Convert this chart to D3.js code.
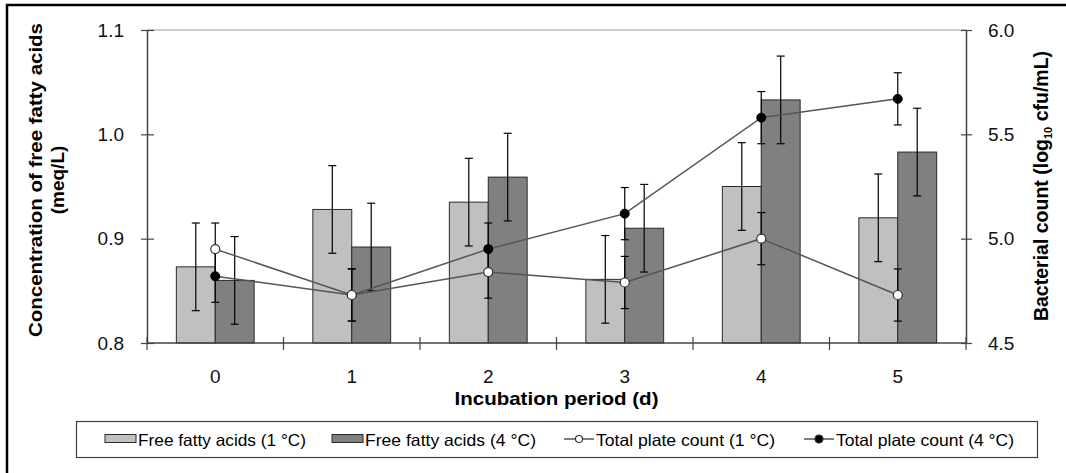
<!DOCTYPE html>
<html><head><meta charset="utf-8">
<script src="https://cdn.jsdelivr.net/npm/d3@7"></script>
<style>body{margin:0;background:#fff}svg{display:block;font-family:"Liberation Sans",Arial,sans-serif}</style>
</head><body>
<svg id="c" width="1066" height="473"></svg>
<script>
const days = ["0","1","2","3","4","5"];
const ffa1C = [0.873, 0.928, 0.935, 0.861, 0.950, 0.920];
const ffa4C = [0.860, 0.892, 0.959, 0.910, 1.033, 0.983];
const ffaErr1C = [0.042, 0.042, 0.042, 0.042, 0.042, 0.042];
const ffaErr4C = [0.042, 0.042, 0.042, 0.042, 0.042, 0.042];
const tpc1C = [4.95, 4.73, 4.84, 4.79, 5.00, 4.73];
const tpc4C = [4.82, 4.73, 4.95, 5.12, 5.58, 5.67];
const tpcErr1C = [0.125, 0.125, 0.125, 0.125, 0.125, 0.125];
const tpcErr4C = [0.125, 0.125, 0.125, 0.125, 0.125, 0.125];
const leftTicks = [0.8, 0.9, 1.0, 1.1];
const rightTicks = [4.5, 5.0, 5.5, 6.0];
const legendLabels = ["Free fatty acids (1 \u00B0C)", "Free fatty acids (4 \u00B0C)", "Total plate count (1 \u00B0C)", "Total plate count (4 \u00B0C)"];

const svg = d3.select("#c");
const L = 147, R = 966, T = 30, B = 343;
const x = d3.scaleBand().domain(days).range([L, R]).paddingInner(0.43).paddingOuter(0.215);
const xs = d3.scaleBand().domain(["a","b"]).range([0, x.bandwidth()]);
const yL = d3.scaleLinear().domain([0.8, 1.1]).range([B, T]);
const yR = d3.scaleLinear().domain([4.5, 6.0]).range([B, T]);
const cx = d => x(d) + x.bandwidth()/2;

// outer frame
svg.append("rect").attr("x",7).attr("y",5).attr("width",1080).attr("height",490)
  .attr("fill","none").attr("stroke","#000").attr("stroke-width",2.5);

// top plot border
svg.append("line").attr("x1",L).attr("x2",R).attr("y1",T).attr("y2",T).attr("stroke","#999").attr("stroke-width",1);

const barColors = ["#c0c0c0","#808080"];
const barSets = [ffa1C, ffa4C];
const barErrs = [ffaErr1C, ffaErr4C];
["a","b"].forEach((k,si) => {
  const g = svg.append("g");
  g.selectAll("rect").data(days).join("rect")
    .attr("x", d => x(d) + xs(k)).attr("width", xs.bandwidth())
    .attr("y", (d,i) => yL(barSets[si][i])).attr("height", (d,i) => B - yL(barSets[si][i]))
    .attr("fill", barColors[si]).attr("stroke","#2a2a2a").attr("stroke-width",1);
});
// bar error bars
["a","b"].forEach((k,si) => {
  days.forEach((d,i) => {
    const xc = x(d) + xs(k) + xs.bandwidth()/2;
    const v = barSets[si][i], e = barErrs[si][i];
    const g = svg.append("g").attr("stroke","#000").attr("stroke-width",1.2);
    g.append("line").attr("x1",xc).attr("x2",xc).attr("y1",yL(v+e)).attr("y2",yL(v-e));
    g.append("line").attr("x1",xc-4).attr("x2",xc+4).attr("y1",yL(v+e)).attr("y2",yL(v+e));
    g.append("line").attr("x1",xc-4).attr("x2",xc+4).attr("y1",yL(v-e)).attr("y2",yL(v-e));
  });
});

// axes
const axL = svg.append("g").attr("transform",`translate(${L},0)`)
  .call(d3.axisLeft(yL).tickValues(leftTicks).tickFormat(d3.format(".1f")).tickSizeInner(6).tickSizeOuter(0).tickPadding(17));
axL.selectAll(".tick line").attr("x2",7).attr("x1",-6);
const axR = svg.append("g").attr("transform",`translate(${R},0)`)
  .call(d3.axisRight(yR).tickValues(rightTicks).tickFormat(d3.format(".1f")).tickSizeInner(6).tickSizeOuter(0).tickPadding(16));
axR.selectAll(".tick line").attr("x1",-5).attr("x2",6);
const axB = svg.append("g").attr("transform",`translate(0,${B})`)
  .call(d3.axisBottom(x).tickSizeInner(0).tickSizeOuter(0).tickPadding(27));
axB.select(".domain").attr("d", `M${L},0H${R}`);
// category separator ticks
const sepX = d3.range(0, days.length + 1).map(i => L + i * x.step());
axB.selectAll(".sep").data(sepX).join("line").attr("class","sep")
  .attr("x1",d=>d).attr("x2",d=>d).attr("y1",-6).attr("y2",7).attr("stroke","#444").attr("stroke-width",1.2);
[axL, axR, axB].forEach(a => {
  a.select(".domain").attr("stroke","#444").attr("stroke-width",1.5);
  a.selectAll(".tick line").attr("stroke","#444").attr("stroke-width",1.2);
  a.selectAll("text").attr("font-size",19).attr("fill","#111").attr("font-family","Liberation Sans, Arial, sans-serif");
});

// lines
const lineGen = yArr => d3.line().x(d => cx(d)).y((d,i) => yR(yArr[i]));
[[tpc1C,tpcErr1C],[tpc4C,tpcErr4C]].forEach(([vals]) => {
  svg.append("path").datum(days).attr("d", lineGen(vals)).attr("fill","none").attr("stroke","#555").attr("stroke-width",1.5);
});
[[tpc1C,tpcErr1C],[tpc4C,tpcErr4C]].forEach(([vals, errs]) => {
  days.forEach((d,i) => {
    const xc = cx(d), v = vals[i], e = errs[i];
    const g = svg.append("g").attr("stroke","#000").attr("stroke-width",1.2);
    g.append("line").attr("x1",xc).attr("x2",xc).attr("y1",yR(v+e)).attr("y2",yR(v-e));
    g.append("line").attr("x1",xc-4).attr("x2",xc+4).attr("y1",yR(v+e)).attr("y2",yR(v+e));
    g.append("line").attr("x1",xc-4).attr("x2",xc+4).attr("y1",yR(v-e)).attr("y2",yR(v-e));
  });
});
svg.append("g").selectAll("circle").data(days).join("circle")
  .attr("cx", cx).attr("cy", (d,i) => yR(tpc4C[i])).attr("r",4.5).attr("fill","#000").attr("stroke","#000");
svg.append("g").selectAll("circle").data(days).join("circle")
  .attr("cx", cx).attr("cy", (d,i) => yR(tpc1C[i])).attr("r",4.5).attr("fill","#fff").attr("stroke","#333").attr("stroke-width",1.2);

// axis titles
svg.append("text").attr("transform","translate(42,180) rotate(-90)").attr("text-anchor","middle")
  .attr("font-size",19).attr("font-weight","bold").attr("textLength",314).attr("lengthAdjust","spacingAndGlyphs")
  .text("Concentration of free fatty acids");
svg.append("text").attr("transform","translate(64,180) rotate(-90)").attr("text-anchor","middle")
  .attr("font-size",19).attr("font-weight","bold").text("(meq/L)");
const rt = svg.append("text").attr("transform","translate(1048,186) rotate(-90)").attr("text-anchor","middle")
  .attr("font-size",19.5).attr("font-weight","bold");
rt.append("tspan").text("Bacterial count (log");
rt.append("tspan").attr("font-size",11).attr("dy",4).text("10");
rt.append("tspan").attr("dy",-4).text(" cfu/mL)");
svg.append("text").attr("x",(L+R)/2).attr("y",405).attr("text-anchor","middle")
  .attr("font-size",19).attr("font-weight","bold").attr("textLength",204).attr("lengthAdjust","spacingAndGlyphs")
  .text("Incubation period (d)");

// legend
svg.append("rect").attr("x",76.5).attr("y",421.5).attr("width",961).attr("height",36)
  .attr("fill","#fff").attr("stroke","#404040").attr("stroke-width",1.2);
const legX = [138, 365, 596, 836];
const legW = [168, 171, 179, 178];
const lg = svg.append("g");
[0,1].forEach(i => {
  lg.append("rect").attr("x", legX[i]-33).attr("y",434.5).attr("width",31).attr("height",8)
    .attr("fill",barColors[i]).attr("stroke","#2a2a2a").attr("stroke-width",1);
});
[2,3].forEach(i => {
  const x0 = legX[i] - 32, x1 = legX[i] - 2, xm = (x0+x1)/2;
  lg.append("line").attr("x1",x0).attr("x2",x1).attr("y1",439).attr("y2",439).attr("stroke","#555").attr("stroke-width",1.5);
  lg.append("circle").attr("cx",xm).attr("cy",439).attr("r",i===2?3.5:4)
    .attr("fill",i===2?"#fff":"#000").attr("stroke","#333").attr("stroke-width",1.2);
});
lg.selectAll("text.leg").data(legendLabels).join("text").attr("class","leg")
  .attr("x",(d,i)=>legX[i]).attr("y",445.5).attr("font-size",16.5)
  .attr("textLength",(d,i)=>legW[i]).attr("lengthAdjust","spacingAndGlyphs").text(d=>d);
</script>
</body></html>
